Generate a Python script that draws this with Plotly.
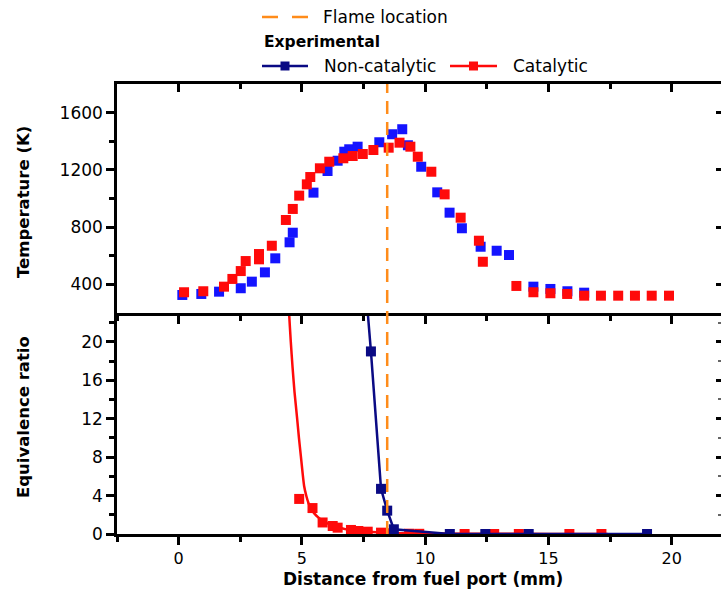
import plotly.graph_objects as go

# ---- Temperature profiles (K) vs distance from fuel port (mm) ----
t_x_noncat = [0.15, 0.92, 1.64, 2.52, 2.97, 3.50, 3.92, 4.50, 4.63, 5.47, 6.04, 6.45, 6.72,
              6.92, 7.26, 8.14, 8.66, 9.07, 9.30, 9.84, 10.49, 10.99, 11.49, 12.25, 12.90,
              13.40, 14.39, 15.08, 15.77, 16.45]
t_noncat = [326, 333, 349, 373, 419, 484, 582, 694, 761, 1041, 1192, 1264, 1327,
            1344, 1362, 1393, 1449, 1484, 1372, 1222, 1043, 901, 792, 663, 635,
            605, 384, 368, 352, 342]

t_x_cat = [0.22, 1.00, 1.84, 2.18, 2.52, 2.72, 3.26, 3.26, 3.78, 4.35, 4.63, 4.89, 5.20,
           5.34, 5.73, 6.11, 6.68, 7.06, 7.47, 7.90, 8.52, 8.96, 9.40, 9.70, 10.25, 10.79,
           11.44, 12.18, 12.34, 13.70, 14.39, 15.08, 15.76, 16.45, 17.13, 17.83, 18.51,
           19.19, 19.89]
t_cat = [345, 352, 384, 438, 493, 563, 612, 575, 670, 850, 927, 1020, 1099,
         1150, 1211, 1257, 1281, 1297, 1311, 1339, 1355, 1390, 1362, 1292, 1187, 1029,
         866, 705, 558, 389, 345, 338, 333, 321, 321, 321, 321,
         321, 321]

# ---- Equivalence ratio ----
phi_x_noncat = [7.40, 7.80, 8.21, 8.46, 8.73, 11.00, 12.44, 14.20, 19.00]
phi_noncat = [31.5, 19.0, 4.7, 2.43, 0.49, 0.0, 0.0, 0.0, 0.0]

phi_x_cat = [4.89, 5.43, 5.84, 6.25, 6.45, 6.99, 7.29, 7.67, 8.21, 8.55, 9.35, 9.76,
             11.60, 12.80, 13.80, 15.85, 17.15]
phi_cat = [3.65, 2.70, 1.20, 0.83, 0.66, 0.42, 0.31, 0.24, 0.14, 0.08, 0.03, 0.02,
           0.0, 0.0, 0.0, 0.0, 0.0]

# decay fit through the catalytic equivalence-ratio data
fit_x_cat = [4.42, 4.48, 4.55, 4.62, 4.70, 4.80, 4.88, 4.96, 5.03, 5.09, 5.18, 5.27,
             5.38, 5.50, 5.70, 5.91, 6.15, 6.45, 6.80, 7.13, 7.60, 8.08, 9.00, 10.5,
             12.5, 15.0, 17.4]
fit_cat = [26.0, 23.0, 20.0, 17.4, 14.8, 12.2, 10.0, 8.05, 6.3, 5.0, 3.95, 3.2,
           2.6, 2.15, 1.65, 1.28, 0.97, 0.70, 0.48, 0.34, 0.24, 0.17, 0.09, 0.04,
           0.02, 0.01, 0.01]

flame_x = 8.46

x_ticks = [0, 5, 10, 15, 20]
x_range = [-2.5, 22.0]
t_range = [200, 1800]
phi_range = [0, 23]

BLUE = "#1414FF"
NAVY = "#0A0A84"
RED = "#FF0A0A"
ORANGE = "#FF8C1A"
FONT = "DejaVu Sans, Arial, sans-serif"

W, H = 721, 594
ML, MR, MT, MB = 117, 0, 84, 60
PW, PH = W - ML - MR, H - MT - MB
SPLIT = 221 / PH  # lower panel height fraction


def px_x(px):
    return (px - ML) / PW


def px_y(py):
    return (H - MB - py) / PH


fig = go.Figure()

# upper panel: temperature
fig.add_trace(go.Scatter(x=t_x_noncat, y=t_noncat, mode="markers", xaxis="x2", yaxis="y2",
                         marker=dict(symbol="square", size=10, color=BLUE), showlegend=False))
fig.add_trace(go.Scatter(x=t_x_cat, y=t_cat, mode="markers", xaxis="x2", yaxis="y2",
                         marker=dict(symbol="square", size=10, color=RED), showlegend=False))

# lower panel: equivalence ratio
fig.add_trace(go.Scatter(x=fit_x_cat, y=fit_cat, mode="lines", xaxis="x", yaxis="y",
                         line=dict(color=RED, width=2.5, shape="spline", smoothing=0.6),
                         showlegend=False))
fig.add_trace(go.Scatter(x=phi_x_cat, y=phi_cat, mode="markers", xaxis="x", yaxis="y",
                         marker=dict(symbol="square", size=10, color=RED), showlegend=False))
fig.add_trace(go.Scatter(x=phi_x_noncat, y=phi_noncat, mode="lines+markers", xaxis="x", yaxis="y",
                         line=dict(color=NAVY, width=2.5),
                         marker=dict(symbol="square", size=10, color=NAVY), showlegend=False))

tickfont = dict(family=FONT, size=17, color="black")
xtickfont = dict(family=FONT, size=16, color="black")

common_x = dict(range=x_range, tickvals=x_ticks, showgrid=False, zeroline=False,
                ticklen=8, tickwidth=2.5, tickcolor="black", linecolor="black", linewidth=2.5,
                minor=dict(tickvals=[-2.5, 2.5, 7.5, 12.5, 17.5], ticklen=5, tickwidth=2.5,
                           tickcolor="black"))

fig.update_layout(
    width=W, height=H,
    margin=dict(l=ML, r=MR, t=MT, b=MB, autoexpand=False),
    paper_bgcolor="white", plot_bgcolor="white",
    font=dict(family=FONT, color="black"),
    xaxis=dict(**common_x, anchor="y", domain=[0, 1], showline=True, ticks="outside",
               tickfont=xtickfont, minor_ticks="outside"),
    xaxis2=dict(**common_x, anchor="y2", domain=[0, 1], showline=True, ticks="outside",
                showticklabels=False, minor_ticks="outside"),
    xaxis3=dict(**common_x, anchor="y2", overlaying="x2", side="top", showline=True,
                ticks="inside", showticklabels=False, minor_ticks="inside"),
    yaxis=dict(range=phi_range, domain=[0, SPLIT], dtick=4, tick0=0, showgrid=False,
               zeroline=False, showline=True, linecolor="black", linewidth=2.5,
               ticks="outside", ticklen=8, tickwidth=2.5, tickcolor="black", tickfont=tickfont,
               minor=dict(dtick=2, ticks="outside", ticklen=5, tickwidth=2.5, tickcolor="black")),
    yaxis2=dict(range=t_range, domain=[SPLIT, 1], tickvals=[400, 800, 1200, 1600],
                showgrid=False, zeroline=False, showline=True, linecolor="black",
                linewidth=2.5, ticks="outside", ticklen=8, tickwidth=2.5, tickcolor="black",
                tickfont=tickfont,
                minor=dict(tickvals=[600, 1000, 1400], ticks="outside", ticklen=5,
                           tickwidth=2.5, tickcolor="black")),
    yaxis3=dict(range=phi_range, overlaying="y", side="right", anchor="x", dtick=4, tick0=0,
                showgrid=False, zeroline=False, showline=False, ticks="inside", ticklen=5,
                tickwidth=2.5, tickcolor="black", showticklabels=False,
                minor=dict(dtick=2, ticks="inside", ticklen=3, tickwidth=1.5,
                           tickcolor="#666666")),
    yaxis4=dict(range=t_range, overlaying="y2", side="right", anchor="x2",
                tickvals=[400, 800, 1200, 1600], showgrid=False, zeroline=False,
                showline=False, ticks="inside", ticklen=5, tickwidth=2.5, tickcolor="black",
                showticklabels=False),
)

# axes placeholders so the overlay axes are drawn
fig.add_trace(go.Scatter(x=[None], y=[None], xaxis="x3", yaxis="y4", showlegend=False,
                         hoverinfo="skip"))
fig.add_trace(go.Scatter(x=[None], y=[None], xaxis="x", yaxis="y3", showlegend=False,
                         hoverinfo="skip"))

# axis titles
title_font = dict(family=FONT, size=16.5, color="black")
fig.add_annotation(xref="paper", yref="paper", x=px_x(423), y=px_y(579),
                   text="<b>Distance from fuel port (mm)</b>", showarrow=False,
                   xanchor="center", yanchor="middle",
                   font=dict(family=FONT, size=17, color="black"))
fig.add_annotation(xref="paper", yref="paper", x=px_x(23), y=px_y(202),
                   text="<b>Temperature (K)</b>", showarrow=False, textangle=-90,
                   xanchor="center", yanchor="middle", font=title_font)
fig.add_annotation(xref="paper", yref="paper", x=px_x(23), y=px_y(417),
                   text="<b>Equivalence ratio</b>", showarrow=False, textangle=-90,
                   xanchor="center", yanchor="middle", font=title_font)

# flame location through both panels
fig.add_shape(type="line", xref="x", yref="paper", x0=flame_x, x1=flame_x, y0=0, y1=1,
              line=dict(color=ORANGE, width=2.5, dash="13px,8px"), layer="above")

# legend block above the plot
leg_font = dict(family=FONT, size=17, color="black")
fig.add_shape(type="line", xref="paper", yref="paper", x0=px_x(262), x1=px_x(308),
              y0=px_y(17), y1=px_y(17), line=dict(color=ORANGE, width=2.5, dash="16px,14px"))
fig.add_annotation(xref="paper", yref="paper", x=px_x(321), y=px_y(17), text="Flame location",
                   showarrow=False, xanchor="left", yanchor="middle", font=leg_font)
fig.add_annotation(xref="paper", yref="paper", x=px_x(262), y=px_y(42), text="<b>Experimental</b>",
                   showarrow=False, xanchor="left", yanchor="middle",
                   font=dict(family=FONT, size=15.5, color="black"))
for x0, x1, col, label, tx in [(262, 308, NAVY, "Non-catalytic", 322),
                               (450, 497, RED, "Catalytic", 511)]:
    fig.add_shape(type="line", xref="paper", yref="paper", x0=px_x(x0), x1=px_x(x1),
                  y0=px_y(66), y1=px_y(66), line=dict(color=col, width=2.5))
    cx = (x0 + x1) / 2
    fig.add_shape(type="rect", xref="paper", yref="paper", x0=px_x(cx - 4.5), x1=px_x(cx + 4.5),
                  y0=px_y(70.5), y1=px_y(61.5), line=dict(width=0), fillcolor=col)
    fig.add_annotation(xref="paper", yref="paper", x=px_x(tx), y=px_y(66), text=label,
                       showarrow=False, xanchor="left", yanchor="middle", font=leg_font)

fig.write_html("out.html")
